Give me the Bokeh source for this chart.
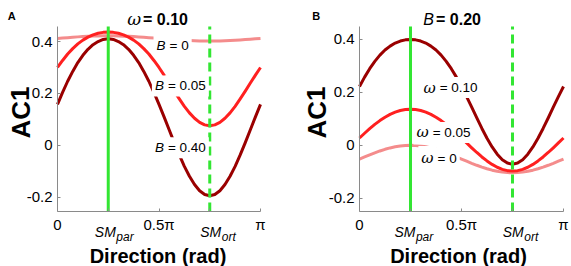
from bokeh.plotting import figure
from bokeh.models import Range1d, FixedTicker, Label
from bokeh.layouts import row
from bokeh.embed import file_html
from bokeh.resources import INLINE

# Direction in units of pi
direction = [0.000, 0.025, 0.050, 0.075, 0.100, 0.125, 0.150, 0.175, 0.200, 0.225,
             0.250, 0.275, 0.300, 0.325, 0.350, 0.375, 0.400, 0.425, 0.450, 0.475,
             0.500, 0.525, 0.550, 0.575, 0.600, 0.625, 0.650, 0.675, 0.700, 0.725,
             0.750, 0.775, 0.800, 0.825, 0.850, 0.875, 0.900, 0.925, 0.950, 0.975,
             1.000]

# Panel A: omega = 0.10, varying B
a_B0 = [0.412, 0.4136, 0.415, 0.4165, 0.418, 0.4191, 0.420, 0.4209, 0.4215, 0.4219,
        0.422, 0.4219, 0.4215, 0.4209, 0.420, 0.4191, 0.418, 0.4165, 0.415, 0.4136,
        0.412, 0.4104, 0.409, 0.4075, 0.406, 0.4049, 0.404, 0.4031, 0.4025, 0.4021,
        0.402, 0.4021, 0.4025, 0.4031, 0.404, 0.4049, 0.406, 0.4075, 0.409, 0.4104,
        0.412]
a_B005 = [0.300, 0.3271, 0.352, 0.3728, 0.391, 0.4056, 0.417, 0.4259, 0.432, 0.4354,
          0.4365, 0.4354, 0.432, 0.4259, 0.417, 0.4056, 0.391, 0.3728, 0.352, 0.3271,
          0.300, 0.2707, 0.240, 0.2090, 0.179, 0.1504, 0.125, 0.1043, 0.0885, 0.0788,
          0.0755, 0.0788, 0.0885, 0.1043, 0.125, 0.1504, 0.179, 0.2090, 0.240, 0.2707,
          0.300]
a_B040 = [0.158, 0.2041, 0.247, 0.2850, 0.319, 0.3469, 0.370, 0.3878, 0.400, 0.4080,
          0.4105, 0.4080, 0.400, 0.3878, 0.370, 0.3469, 0.319, 0.2850, 0.247, 0.2041,
          0.158, 0.1095, 0.060, 0.0104, -0.037, -0.0809, -0.119, -0.1512, -0.175, -0.1896,
          -0.1945, -0.1896, -0.175, -0.1512, -0.119, -0.0809, -0.037, 0.0104, 0.060, 0.1095,
          0.158]

# Panel B: B = 0.20, varying omega
b_w0 = [-0.0525, -0.0444, -0.0364, -0.0289, -0.0219, -0.0157, -0.0104, -0.0062, -0.0030, -0.0011,
        -0.0005, -0.0011, -0.0030, -0.0062, -0.0104, -0.0157, -0.0219, -0.0289, -0.0364, -0.0444,
        -0.0525, -0.0606, -0.0686, -0.0761, -0.0831, -0.0893, -0.0946, -0.0988, -0.1020, -0.1039,
        -0.1045, -0.1039, -0.1020, -0.0988, -0.0946, -0.0893, -0.0831, -0.0761, -0.0686, -0.0606,
        -0.0525]
b_w005 = [0.027, 0.0451, 0.0624, 0.0785, 0.093, 0.1057, 0.1165, 0.1248, 0.1311, 0.1348,
          0.136, 0.1348, 0.1311, 0.1248, 0.1165, 0.1057, 0.093, 0.0785, 0.0624, 0.0451,
          0.027, 0.0085, -0.010, -0.0277, -0.0446, -0.0597, -0.0729, -0.0836, -0.0915, -0.0964,
          -0.098, -0.0964, -0.0915, -0.0836, -0.0729, -0.0597, -0.0446, -0.0277, -0.010, 0.0085,
          0.027]
b_w010 = [0.222, 0.2575, 0.2894, 0.3171, 0.3408, 0.3599, 0.3749, 0.3863, 0.3939, 0.3985,
          0.400, 0.3985, 0.3939, 0.3863, 0.3749, 0.3599, 0.3408, 0.3171, 0.2894, 0.2575,
          0.222, 0.1837, 0.1436, 0.1029, 0.0632, 0.0261, -0.0069, -0.0343, -0.0549, -0.0677,
          -0.072, -0.0677, -0.0549, -0.0343, -0.0069, 0.0261, 0.0632, 0.1029, 0.1436, 0.1837,
          0.222]

x_ticks = [0, 0.25, 0.5, 0.75, 1]
x_tick_labels = {0: "0", 0.25: "", 0.5: "0.5π", 0.75: "", 1: "π"}
y_ticks = [-0.2, 0, 0.2, 0.4]
y_tick_labels = {-0.2: "-0.2", 0: "0", 0.2: "0.2", 0.4: "0.4"}
sm_par = 0.25
sm_ort = 0.75

DARK = "#9a0000"
RED = "#ff2020"
PINK = "#f48c8c"
GREEN = "#33e633"
AXIS = "#8a8a8a"
SANS = "Liberation Sans"
SERIF = "DejaVu Serif"
H = 266
TOP, FH = 26, 185


class Panel:
    """A figure whose frame fills the whole canvas; axes sit at fixed data locations."""

    def __init__(self, width, left, fw, ylo, yhi):
        self.left, self.fw, self.ylo, self.yhi = left, fw, ylo, yhi
        self.ppu = FH / (yhi - ylo)
        xr = Range1d(-left / fw, 1 + (width - left - fw) / fw)
        yr = Range1d(ylo - (H - TOP - FH) / self.ppu, yhi + TOP / self.ppu)
        p = figure(width=width, height=H, x_range=xr, y_range=yr,
                   min_border=0, min_border_left=0, min_border_right=0,
                   min_border_top=0, min_border_bottom=0,
                   output_backend="svg", toolbar_location=None)
        p.outline_line_color = None
        p.xgrid.visible = False
        p.ygrid.visible = False
        for ax in (p.xaxis[0], p.yaxis[0]):
            ax.axis_line_color = AXIS
            ax.major_tick_line_color = AXIS
            ax.major_tick_in = 3
            ax.major_tick_out = 0
            ax.minor_tick_line_color = None
            ax.major_label_text_font = SANS
            ax.major_label_text_font_size = "15px"
            ax.major_label_text_color = "black"
        p.xaxis.fixed_location = ylo
        p.xaxis.bounds = (0, 1)
        p.xaxis.ticker = FixedTicker(ticks=x_ticks)
        p.xaxis.major_label_overrides = x_tick_labels
        p.xaxis.major_label_standoff = 4
        p.yaxis.fixed_location = 0
        p.yaxis.bounds = (ylo, yhi)
        p.yaxis.ticker = FixedTicker(ticks=y_ticks)
        p.yaxis.major_label_overrides = y_tick_labels
        p.yaxis.major_label_standoff = 5
        self.p = p

    # pixel position inside this figure -> data coordinates (for text placement only)
    def fx(self, px):
        return (px - self.left) / self.fw

    def fy(self, py):
        return self.yhi - (py - TOP) / self.ppu

    def lab(self, x, y, text, size, font=SANS, style="normal", align="left",
            baseline="alphabetic", angle=0, bg=False, xoff=0):
        kw = {}
        if bg:
            kw = dict(background_fill_color="white", padding=3)
        self.p.add_layout(Label(x=x, y=y, text=text, text_font=font, text_font_size=size,
                                text_font_style=style, text_align=align,
                                text_baseline=baseline, angle=angle, x_offset=xoff,
                                text_color="black", **kw))

    def plab(self, px, py, text, size, **kw):
        self.lab(self.fx(px), self.fy(py), text, size, **kw)

    def curves(self, series):
        for vals, col in series:
            self.p.line(direction, vals, line_color=col, line_width=3, line_join="round")

    def greens(self):
        self.p.segment(x0=[sm_par], y0=[self.ylo], x1=[sm_par], y1=[self.yhi],
                       line_color=GREEN, line_width=3)
        self.p.segment(x0=[sm_ort], y0=[self.ylo], x1=[sm_ort], y1=[self.yhi],
                       line_color=GREEN, line_width=3, line_dash="9 5")

    def var_label(self, x, y, var, rest, var_font, var_size):
        self.lab(x, y, var, var_size, font=var_font, style="italic", align="right", bg=True, xoff=1)
        self.lab(x, y, rest, "13.5px", align="left", bg=True, xoff=-1)

    def title(self, px, var, var_font, var_size, rest):
        self.plab(px, 18.5, var, var_size, font=var_font, style="italic", align="right", xoff=-1)
        self.plab(px, 18.5, rest, "16px", style="bold", align="left", xoff=1)

    def decorations(self, letter, lx, acx, dirx, par_dx, ort_dx):
        self.plab(lx, 15.5, letter, "11px", style="bold")
        self.plab(acx, 112, "AC1", "26px", style="bold", align="center",
                  baseline="middle", angle=1.5708)
        self.plab(dirx, 255.5, "Direction (rad)", "20px", style="bold", align="center")
        tpar = self.left + sm_par * self.fw
        tort = self.left + sm_ort * self.fw
        self.plab(tpar + par_dx, 231.5, "SM", "14px", style="italic", align="right")
        self.plab(tpar + par_dx + 0.5, 236, "par", "12px", style="italic", align="left")
        self.plab(tort + ort_dx, 231.5, "SM", "14px", style="italic", align="right")
        self.plab(tort + ort_dx + 0.5, 236, "ort", "12px", style="italic", align="left")


# Panel A
A = Panel(290, 57, 203, -0.255, 0.458)
A.curves(((a_B0, PINK), (a_B005, RED), (a_B040, DARK)))
A.greens()
A.var_label(0.542, 0.386, "B", "= 0", SANS, "13.5px")
A.var_label(0.534, 0.229, "B", "= 0.05", SANS, "13.5px")
A.var_label(0.534, -0.009, "B", "= 0.40", SANS, "13.5px")
A.title(141.5, "ω", SERIF, "17px", "= 0.10")
A.decorations("A", 7.3, 20, 157.5, 7.6, 11.5)

# Panel B
B = Panel(281, 69, 204, -0.251, 0.449)
B.curves(((b_w0, PINK), (b_w005, RED), (b_w010, DARK)))
B.greens()
B.var_label(0.383, 0.218, "ω", "= 0.10", SERIF, "15px")
B.var_label(0.349, 0.048, "ω", "= 0.05", SERIF, "15px")
B.var_label(0.373, -0.049, "ω", "= 0", SERIF, "15px")
B.title(144.5, "B", SANS, "16px", "= 0.20")
B.decorations("B", 21.7, 26, 168, 4.9, 11.25)

layout = row(A.p, B.p)
open("out.html", "w").write(file_html(layout, INLINE))
